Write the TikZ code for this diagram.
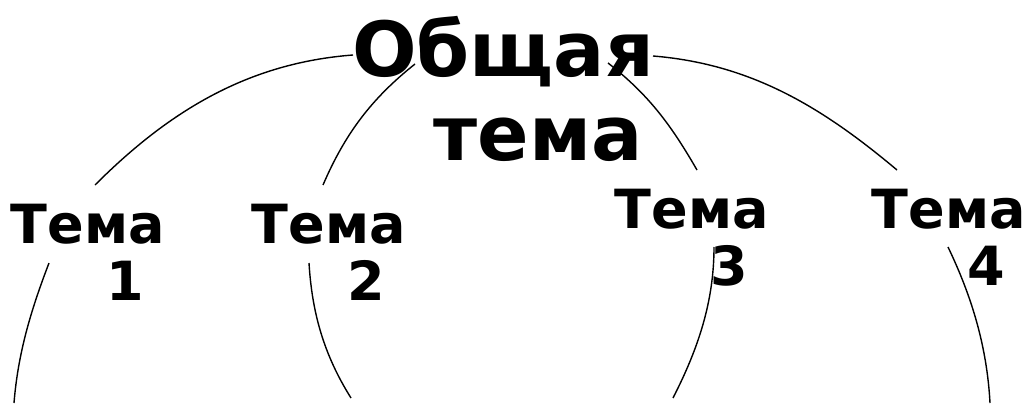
\documentclass[tikz,border=0pt]{standalone}
\usepackage{fontspec}
\setmainfont{DejaVu Sans}
\begin{document}
\begin{tikzpicture}[x=1pt, y=-1pt,
  bigtheme/.style={font=\bfseries\fontsize{76}{84}\selectfont, align=center,
               inner sep=0pt, anchor=base},
  theme/.style={font=\bfseries\fontsize{54}{57}\selectfont, align=center,
               inner sep=0pt, anchor=base},
  arc/.style={line width=1.4pt, color=black},
]
\useasboundingbox (0,0) rectangle (1030,404);

\node[bigtheme] (gen) at (503,160) {Общая\\\hspace*{0.92em}тема};
\node[theme] (t1) at (88,300)  {Тема\\\hspace*{1.37em}1};
\node[theme] (t2) at (329,300) {Тема\\\hspace*{1.37em}2};
\node[theme] (t3) at (692,285) {Тема\\\hspace*{1.37em}3};
\node[theme] (t4) at (949,285) {Тема\\\hspace*{1.37em}4};

\coordinate (t1top) at (95,185);
\coordinate (genl)  at (353,55);
\coordinate (genr)  at (653,56);
\coordinate (t4top) at (897,170);
\coordinate (t2top) at (323,185);
\coordinate (genbl) at (415,64);
\coordinate (genbr) at (608,63);
\coordinate (t3top) at (697,170);
\coordinate (t1bot) at (49,263);
\coordinate (e1)    at (14,403);
\coordinate (t2bot) at (309,263);
\coordinate (e2)    at (351,398);
\coordinate (t3bot) at (714,247);
\coordinate (e3)    at (673,398);
\coordinate (t4bot) at (948,247);
\coordinate (e4)    at (990,403);

\draw[arc] (t1top) .. controls +(74,-74) and +(-105,8) .. (genl);
\draw[arc] (genr) .. controls +(98,8) and +(-75,-63) .. (t4top);
\draw[arc] (t2top) .. controls +(22,-51) and +(-44,35) .. (genbl);
\draw[arc] (genbr) .. controls +(41,32) and +(-26,-45) .. (t3top);
\draw[arc] (t1bot) .. controls +(-18,47) and +(4,-50) .. (e1);
\draw[arc] (t2bot) .. controls +(3,50) and +(-27,-43) .. (e2);
\draw[arc] (t3bot) .. controls +(0,55) and +(25,-49) .. (e3);
\draw[arc] (t4bot) .. controls +(24,50) and +(-3,-56) .. (e4);
\end{tikzpicture}
\end{document}
